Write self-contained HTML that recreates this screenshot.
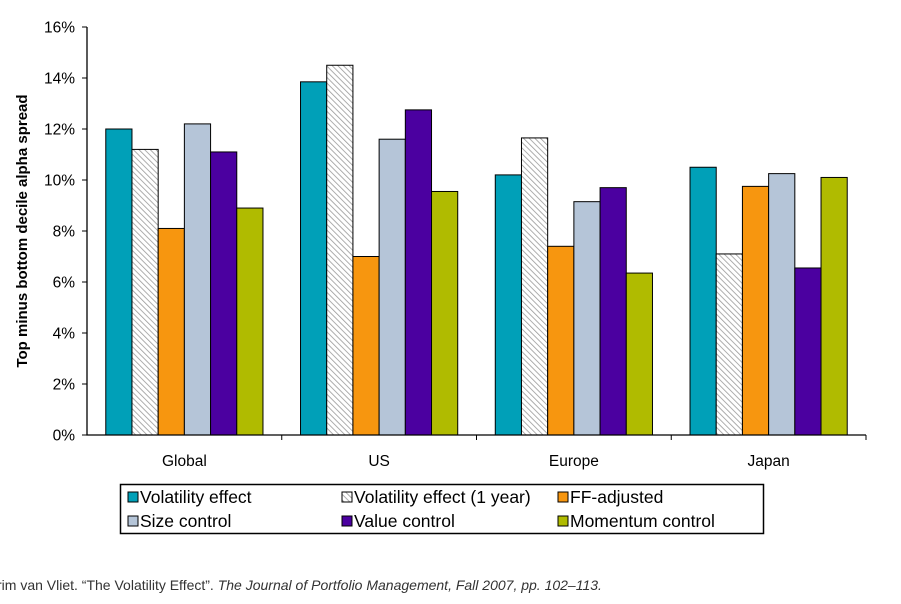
<!DOCTYPE html>
<html><head><meta charset="utf-8"><style>
body{margin:0;background:#fff;}
svg{display:block;font-family:"Liberation Sans",Arial,sans-serif;}
</style></head><body>
<svg id="c" width="901" height="604" viewBox="0 0 901 604">
<defs>
<pattern id="hatch" patternUnits="userSpaceOnUse" width="4" height="4" patternTransform="rotate(-45)">
<rect width="4" height="4" fill="#fff"/><line x1="0" y1="0" x2="0" y2="4" stroke="#999" stroke-width="1.6"/>
</pattern>
</defs>
<text x="0" y="0" transform="translate(27,231) rotate(-90)" text-anchor="middle" font-size="15" font-weight="bold" fill="#000">Top minus bottom decile alpha spread</text>
<g id="plot"></g>
<rect x="120.5" y="484.5" width="643" height="49" fill="#fff" stroke="#000" stroke-width="1.5"/>
<g id="legend"></g>
<text x="-3" y="590" font-size="14" fill="#333">rim van Vliet. “The Volatility Effect”. <tspan font-style="italic">The Journal of Portfolio Management, Fall 2007, pp. 102–113.</tspan></text>
</svg>
<script>
const categories = ["Global","US","Europe","Japan"];
const seriesNames = ["Volatility effect","Volatility effect (1 year)","FF-adjusted","Size control","Value control","Momentum control"];
const volatility = [12.0,13.85,10.2,10.5];
const volatility1y = [11.2,14.5,11.65,7.1];
const ffAdjusted = [8.1,7.0,7.4,9.75];
const sizeControl = [12.2,11.6,9.15,10.25];
const valueControl = [11.1,12.75,9.7,6.55];
const momentumControl = [8.9,9.55,6.35,10.1];
const yTicks = [0,2,4,6,8,10,12,14,16];

const series = [volatility,volatility1y,ffAdjusted,sizeControl,valueControl,momentumControl];
const fills = ["#00a0b8","url(#hatch)","#f7960f","#b5c5d8","#4b00a0","#b0bb00"];
const seriesKeys = ["volatility-effect","volatility-effect-1y","ff-adjusted","size-control","value-control","momentum-control"];
const NS="http://www.w3.org/2000/svg";
const X0=87,X1=866,Y0=435,Y1=27,YMAX=16;
const y=v=>Y0-(v/YMAX)*(Y0-Y1);
const catW=(X1-X0)/categories.length;
const barW=26.2, pad=(catW-barW*6)/2;
const g=document.getElementById('plot');
function mk(t,a){const e=document.createElementNS(NS,t);for(const k in a)e.setAttribute(k,a[k]);return e;}
categories.forEach((c,i)=>{
  series.forEach((s,j)=>{
    const x=X0+i*catW+pad+j*barW;
    const r=mk('rect',{x:x,y:y(s[i]),width:barW,height:Y0-y(s[i]),fill:fills[j],stroke:"#000","stroke-width":1});
    
    
    g.appendChild(r);
  });
  const t=mk('text',{x:X0+(i+0.5)*catW,y:466,"text-anchor":"middle","font-size":15.5,fill:"#000"});
  t.textContent=c;
  
  
  g.appendChild(t);
  const tk=mk('line',{x1:X0+(i+1)*catW,x2:X0+(i+1)*catW,y1:Y0,y2:Y0+5,stroke:"#000","stroke-width":1});
  g.appendChild(tk);
});
yTicks.forEach(v=>{
  const l=mk('line',{x1:X0-5,x2:X0,y1:y(v),y2:y(v),stroke:"#000","stroke-width":1});
  g.appendChild(l);
  const t=mk('text',{x:X0-12,y:y(v)+5.5,"text-anchor":"end","font-size":15.5,fill:"#000"});
  t.textContent=v+"%";
  
  
  g.appendChild(t);
});
const ax=mk('path',{d:`M${X0} ${Y1} V${Y0} H${X1}`,fill:"none",stroke:"#000","stroke-width":1.3});


g.appendChild(ax);
const lg=document.getElementById('legend');
const lx=[137,351,567], ly=[497,521];
seriesNames.forEach((n,j)=>{
  const cx=lx[j%3], cy=ly[Math.floor(j/3)];
  const e=mk('g',{});
  
  
  e.appendChild(mk('rect',{x:cx-9,y:cy-5,width:10,height:10,fill:fills[j],stroke:"#000","stroke-width":1}));
  const t=mk('text',{x:cx+3,y:cy+6,"font-size":17.5,fill:"#000"});
  t.textContent=n;
  e.appendChild(t);
  lg.appendChild(e);
});
</script>
</body></html>
